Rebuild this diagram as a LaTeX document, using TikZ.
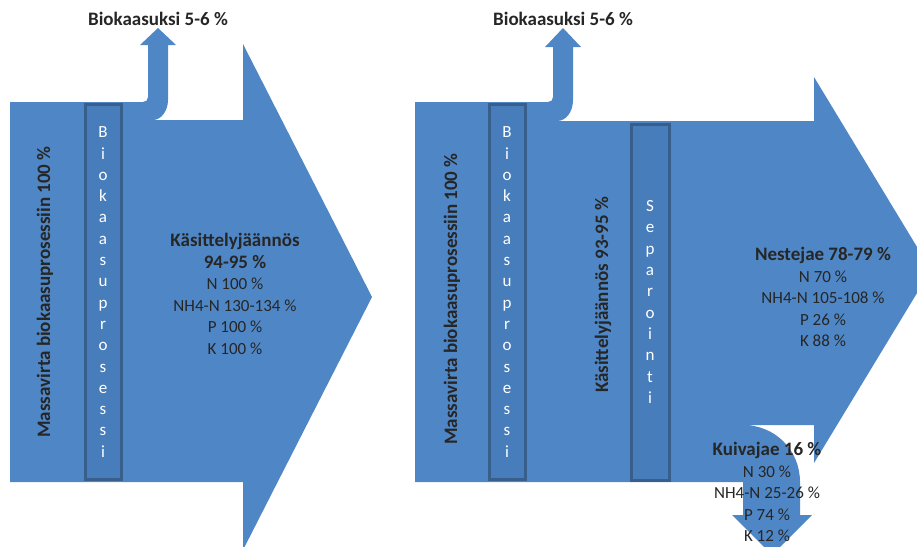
\documentclass[tikz,border=0pt]{standalone}
\usepackage{fontspec}
\setmainfont{Carlito}

\definecolor{flowblue}{RGB}{79,135,198}
\definecolor{boxblue}{RGB}{72,125,187}
\definecolor{boxedge}{RGB}{56,94,140}
\definecolor{darktext}{RGB}{38,38,38}
\newcommand{\flowhead}[1]{{\bfseries\fontsize{19}{21.5}\selectfont #1}}

\begin{document}
\begin{tikzpicture}[x=1pt,y=-1pt,
    flow/.style={fill=flowblue},
    procbox/.style={draw=boxedge, line width=3pt, fill=boxblue, text=white,
      align=center, inner sep=0pt, minimum width=36pt,
      font=\fontsize{17}{21.3}\selectfont},
    heading/.style={text=darktext, font=\bfseries\fontsize{19}{22}\selectfont},
    info/.style={text=darktext, align=center, font=\fontsize{17}{21.5}\selectfont}]
    \path[use as bounding box, clip] (0,0) rectangle (917,546);

    % left: biogas process only
    \fill[flow] (10,102) -- (143,102) .. controls (146,102) and (148,100) .. (148,97)
      -- (148,45) -- (140,45) -- (158,28) -- (176,45) -- (168,45) -- (168,100)
      .. controls (168,111) and (161,120) .. (153,120) -- (243,120) -- (243,44)
      -- (372,297) -- (243,550) -- (243,482) -- (10,482) -- cycle;
    \node[procbox, minimum height=375pt] (bio1) at (103,292)
      {B\\i\\o\\k\\a\\a\\s\\u\\p\\r\\o\\s\\e\\s\\s\\i};
    \node[heading] (gas1) at (158,19) {Biokaasuksi 5-6 \%};
    \node[heading, rotate=90] (mass1) at (45,292) {Massavirta biokaasuprosessiin 100 \%};
    \node[info] (rest1) at (235,294) {\flowhead{Käsittelyjäännös}\\\flowhead{94-95 \%}\\
      N 100 \%\\NH4-N 130-134 \%\\P 100 \%\\K 100 \%};

    % right: biogas process and separation
    \fill[flow] (415,102) -- (548,102) .. controls (551,102) and (553,100) .. (553,97)
      -- (553,47) -- (545,47) -- (563,28) -- (581,47) -- (573,47) -- (573,100)
      .. controls (573,112) and (566,121) .. (557,121) -- (814,121) -- (814,77)
      -- (931,270) -- (814,463) -- (814,425) -- (743,425)
      .. controls (775,425) and (800,450) .. (800,482) -- (800,515) -- (812,515)
      -- (772,555) -- (732,515) -- (743,515) -- (743,482) -- (415,482) -- cycle;
    \node[procbox, minimum height=375pt] (bio2) at (507,292)
      {B\\i\\o\\k\\a\\a\\s\\u\\p\\r\\o\\s\\e\\s\\s\\i};
    \node[procbox, minimum height=356pt, minimum width=38pt] (sep) at (650,302)
      {S\\e\\p\\a\\r\\o\\i\\n\\t\\i};
    \node[heading] (gas2) at (563,19) {Biokaasuksi 5-6 \%};
    \node[heading, rotate=90] (mass2) at (452,299) {Massavirta biokaasuprosessiin 100 \%};
    \node[heading, rotate=90] (rest2) at (603,295) {Käsittelyjäännös 93-95 \%};
    \node[info] (liquid) at (823,297) {\flowhead{Nestejae 78-79 \%}\\
      N 70 \%\\NH4-N 105-108 \%\\P 26 \%\\K 88 \%};
    \node[info] (solid) at (767,492) {\flowhead{Kuivajae 16 \%}\\
      N 30 \%\\NH4-N 25-26 \%\\P 74 \%\\K 12 \%};
  \end{tikzpicture}
\end{document}
